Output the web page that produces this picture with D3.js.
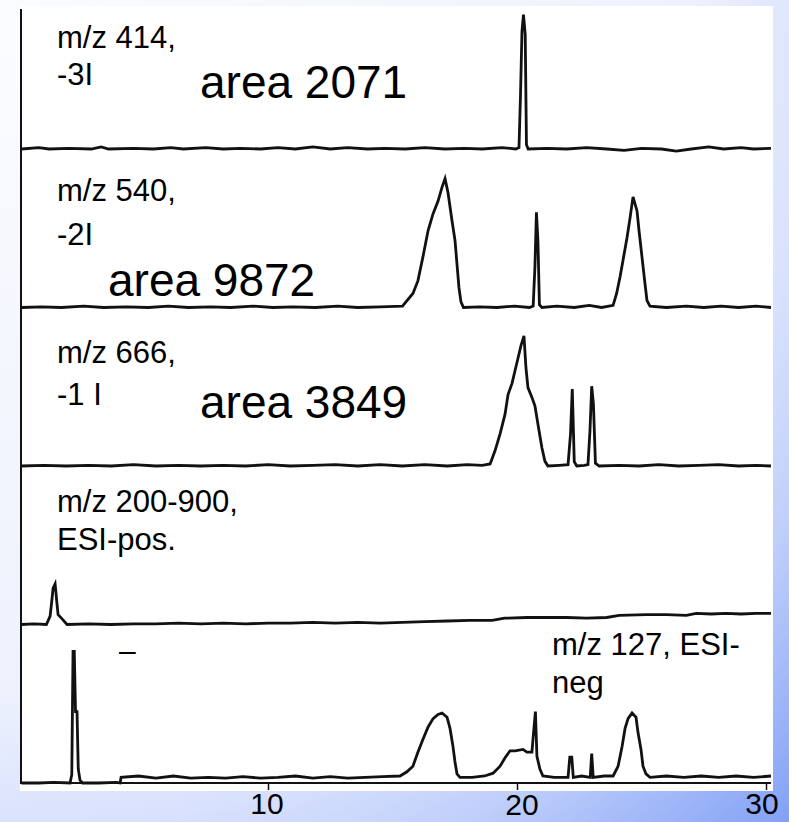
<!DOCTYPE html>
<html>
<head>
<meta charset="utf-8">
<script src="https://cdn.jsdelivr.net/npm/d3@7"></script>
<style>
  html, body { margin: 0; padding: 0; background: #fff; }
  svg { display: block; }
  text { font-family: Arial, "Liberation Sans", sans-serif; fill: #000; }
</style>
</head>
<body>
<svg id="chart" width="789" height="822"></svg>
<script>
// Extracted-ion chromatograms, retention time (min) vs. relative intensity (% of panel full scale)
const panelNames = ["m/z 414", "m/z 540", "m/z 666", "m/z 200-900", "m/z 127"];
const panelLabelLines = [
  ["m/z 414,", "-3I"],
  ["m/z 540,", "-2I"],
  ["m/z 666,", "-1 I"],
  ["m/z 200-900,", "ESI-pos."],
  ["m/z 127, ESI-", "neg"]
];
const peakAreas = [2071, 9872, 3849, null, null];
const xTickValues = [10, 20, 30];

const trace414 = [
  [0.1,0],[0.8,1],[1.2,0],[2.0,0.5],[2.9,0],[3.3,1.5],[3.6,0],[4.6,0.5],[5.4,0],[6.1,1],[6.6,0],
  [7.5,1],[8.2,0],[8.9,0.5],[9.7,0],[10.4,1],[11.1,0],[11.8,1.5],[12.5,0],[13.2,1],[14.0,0],
  [14.7,0.5],[15.5,0],[16.3,1],[17.1,0],[17.9,0.5],[18.6,0],[19.4,1],[19.95,0],[20.08,1],
  [20.14,38],[20.2,84],[20.26,96],[20.33,82],[20.38,3],[20.45,0],[21.2,0.5],[22.0,0],[22.8,1],
  [23.6,0],[24.3,-1],[25.0,0.5],[25.8,0],[26.4,-1.5],[27.0,0],[27.7,1.5],[28.3,0],[29.0,1],
  [29.5,0],[30.2,0.5]
];

const trace540 = [
  [0.1,0],[0.9,0.5],[1.7,0],[2.6,1],[3.4,0],[4.3,0.5],[5.2,0],[6.0,1],[6.8,0],[7.7,0.5],[8.5,0],
  [9.4,1],[10.2,0],[11.0,0.5],[11.9,0],[12.8,1],[13.6,0],[14.5,0.5],[15.4,1],[15.82,10],[16.02,19],
  [16.22,36],[16.43,55],[16.63,67],[16.83,76],[16.99,86],[17.11,92],[17.23,82],[17.39,62],
  [17.51,48],[17.59,31],[17.67,14],[17.75,4],[17.85,0],[18.5,0.5],[19.2,0],[19.9,1],[20.5,0],
  [20.65,1],[20.72,29],[20.78,68],[20.84,48],[20.9,2],[21.0,0],[21.6,1],[22.3,0],[22.9,1.5],
  [23.4,0],[23.86,1.5],[24.0,10],[24.14,22],[24.26,34],[24.42,50],[24.54,64],[24.66,79],
  [24.82,69],[24.9,55],[25.02,36],[25.14,17],[25.22,5],[25.34,1],[26.0,0],[26.8,1],[27.5,0],
  [28.2,1],[28.9,0],[29.6,1],[30.2,0]
];

const trace666 = [
  [0.1,0],[1.0,0.5],[1.9,0],[2.8,0.5],[3.7,0],[4.6,1],[5.5,0],[6.4,0.5],[7.3,0],[8.2,0.5],[9.1,0],
  [10.0,1],[10.9,0],[11.8,0.5],[12.7,1],[13.6,0],[14.5,1],[15.4,0],[16.3,1],[17.2,0],[18.0,1],
  [18.6,0.5],[18.92,1.5],[19.12,11],[19.32,23],[19.52,37],[19.64,51],[19.8,59],[19.92,68],
  [20.04,77],[20.16,86],[20.28,93],[20.36,70],[20.44,56],[20.6,49],[20.72,43],[20.84,30],
  [21.0,13],[21.12,3.5],[21.24,0],[21.7,0.5],[22.05,1],[22.15,23],[22.22,55],[22.3,3],[22.4,0],
  [22.7,0.5],[22.85,1],[22.93,25],[23.0,57],[23.07,44],[23.15,2],[23.3,0],[24.1,0.5],[24.9,0],
  [25.7,1],[26.5,0],[27.3,0.5],[28.1,1],[28.9,0],[29.6,0.5],[30.2,0]
];

const traceTIC = [
  [0.1,0],[0.6,0.5],[1.1,0],[1.25,6],[1.33,19],[1.37,26],[1.45,29],[1.53,14],[1.57,7],[1.73,4],
  [1.93,0],[2.8,0.5],[3.7,0],[4.6,0.5],[5.5,0.5],[6.4,1],[7.3,0.5],[8.2,1],[9.1,0.5],[10.0,1],
  [10.9,1],[11.8,1.5],[12.7,1],[13.6,1.5],[14.5,1],[15.4,1.5],[16.3,2],[17.2,2.5],[18.1,3],
  [19.0,3],[19.5,4.5],[20.4,5],[21.2,5],[22.0,5],[22.8,4.5],[23.6,5],[24.1,6.5],[25.2,7],
  [26.0,7],[26.8,6.5],[27.2,8],[27.8,7.5],[28.4,8],[29.0,7.5],[29.6,8],[30.2,8]
];

const trace127 = [
  [0.1,0],[0.8,0],[1.4,0.5],[2.05,0],[2.12,6],[2.17,94],[2.22,94],[2.27,51],[2.33,51],[2.38,10],
  [2.45,2],[2.55,0],[3.2,0],[3.9,0.5],[4.06,0],[4.1,4],[4.8,5],[5.5,3.5],[6.2,5],[6.9,3.5],
  [7.6,4],[8.3,3.5],[9.0,4.5],[9.7,3.5],[10.4,4],[11.1,5],[11.8,3.5],[12.5,4.5],[13.2,3.5],
  [13.9,4],[14.6,4.5],[15.3,5],[15.58,8],[15.82,12],[16.02,22],[16.22,31],[16.43,40],[16.63,46],
  [16.83,49],[16.99,50],[17.19,47],[17.31,39],[17.43,26],[17.51,15],[17.59,6.5],[17.71,4],
  [18.2,4],[18.7,5],[19.04,7],[19.32,12],[19.52,18],[19.72,23],[19.92,23],[20.24,24],[20.4,22],
  [20.6,22],[20.66,35],[20.74,51],[20.8,19],[20.92,10],[21.04,5],[21.5,4],[22.05,4],[22.12,18.5],
  [22.2,18.5],[22.26,4],[22.6,5],[22.94,4],[23.0,21],[23.06,4],[23.5,5],[23.86,5],[24.06,12],
  [24.22,26],[24.34,39],[24.46,46],[24.62,50],[24.78,47],[24.86,36],[24.98,24],[25.06,12],
  [25.18,6.5],[25.34,4],[26.0,5],[26.7,4],[27.4,5],[28.1,4],[28.8,5],[29.5,4],[30.2,5]
];

const traces = [trace414, trace540, trace666, traceTIC, trace127];

// ---- layout ----
const W = 789, H = 822;
const plot = { left: 20, top: 6, right: 773, bottom: 791 };
const svg = d3.select("#chart");

// slide background: soft blue radial wash from the top-left corner
const defs = svg.append("defs");
const grad = defs.append("radialGradient")
  .attr("id", "bg").attr("gradientUnits", "userSpaceOnUse")
  .attr("cx", 0).attr("cy", 0).attr("r", 1150);
[[0, "#fbfcff"], [0.6, "#eef2fd"], [0.72, "#d9e2fd"], [0.82, "#c0cffb"], [1, "#7f9ef5"]]
  .forEach(([o, c]) => grad.append("stop").attr("offset", o).attr("stop-color", c));
svg.append("rect").attr("width", W).attr("height", H).attr("fill", "url(#bg)");

// white chart area
svg.append("rect")
  .attr("x", plot.left).attr("y", plot.top)
  .attr("width", plot.right - plot.left).attr("height", plot.bottom - plot.top)
  .attr("fill", "#ffffff");

const x = d3.scaleLinear().domain([0, 30]).range([19, 766]);

// stacked panels: each trace gets its own band with a shared height
const panelBase = d3.scaleLinear().domain([0, 4]).range([149, 783]);
const panelHeight = 140;

const line = d3.line().curve(d3.curveLinear);

traces.forEach((tr, i) => {
  const y = d3.scaleLinear().domain([0, 100]).range([panelBase(i), panelBase(i) - panelHeight]);
  svg.append("path")
    .datum(tr)
    .attr("d", line.x(d => x(d[0])).y(d => y(d[1])))
    .attr("fill", "none")
    .attr("stroke", "#111")
    .attr("stroke-width", 2.8)
    .attr("stroke-linejoin", "miter");
});

// left axis
svg.append("line")
  .attr("x1", 21).attr("x2", 21).attr("y1", 9).attr("y2", 784)
  .attr("stroke", "#111").attr("stroke-width", 2);

// time axis along the bottom trace
const xAxis = d3.axisBottom(x).tickValues(xTickValues).tickSize(7).tickFormat("");
const gx = svg.append("g").attr("transform", `translate(0,${panelBase(4)})`).call(xAxis);
gx.select(".domain").attr("stroke", "#111").attr("stroke-width", 2)
  .attr("d", `M${x(0) + 2},0H${x(30.2)}`);
gx.selectAll(".tick line").attr("stroke", "#111").attr("stroke-width", 1.5);

// tick labels sit in the blue margin below the chart area
const tickLabelDy = { 10: 814, 20: 815, 30: 814 };
const tickLabelDx = { 10: -1, 20: 5, 30: -4 };
svg.selectAll("text.xlab").data(xTickValues).join("text")
  .attr("class", "xlab")
  .attr("x", d => x(d) + tickLabelDx[d])
  .attr("y", d => tickLabelDy[d])
  .attr("text-anchor", "middle")
  .attr("font-size", 30)
  .text(d => d);

// panel captions
const labelPos = [
  { x: 57, y: [48, 85] },
  { x: 57, y: [201, 245] },
  { x: 57, y: [363, 405] },
  { x: 57, y: [512, 550] },
  { x: 552, y: [655, 693] }
];
panelLabelLines.forEach((lines, i) => {
  lines.forEach((s, k) => {
    svg.append("text")
      .attr("x", labelPos[i].x).attr("y", labelPos[i].y[k])
      .attr("font-size", 31)
      .text(s);
  });
});

// integrated peak areas
const areaPos = [{ x: 200, y: 98 }, { x: 108, y: 296 }, { x: 200, y: 418 }];
peakAreas.forEach((a, i) => {
  if (a == null) return;
  svg.append("text")
    .attr("x", areaPos[i].x).attr("y", areaPos[i].y)
    .attr("font-size", 46)
    .text(`area ${a}`);
});

// stray dash in the lowest panel
svg.append("text").attr("x", 119).attr("y", 661).attr("font-size", 30).text("–");
</script>
</body>
</html>
